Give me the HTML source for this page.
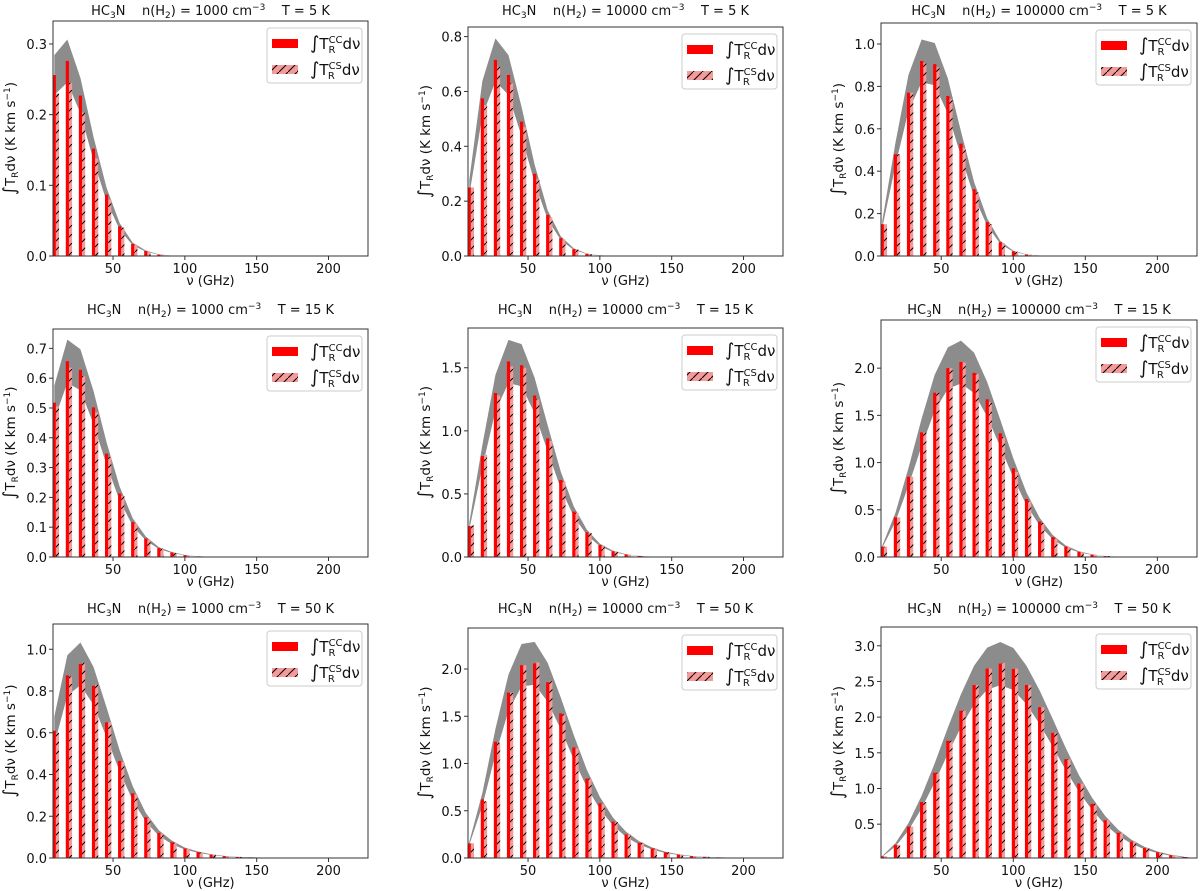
<!DOCTYPE html>
<html><head><meta charset="utf-8">
<style>
html,body{margin:0;padding:0;background:#fff;}
svg{display:block;font-family:"DejaVu Sans","Liberation Sans",sans-serif;}
.pre{white-space:pre;}
</style></head>
<body>
<svg id="fig" width="1200" height="891" viewBox="0 0 1200 891" xmlns="http://www.w3.org/2000/svg">
<defs>
<pattern id="hatch" patternUnits="userSpaceOnUse" width="9" height="9">
<line x1="0" y1="9" x2="9" y2="0" stroke="#000" stroke-width="1"/>
</pattern>
</defs>
</svg>
<script>
// ---- data ----
const nuStep = 9.0982;
const jLevels = [1,2,3,4,5,6,7,8,9,10,11,12,13,14,15,16,17,18,19,20,21,22,23,24];
const xTicks = [50,100,150,200];
const densities = ["1000","10000","100000"];
const temps = ["5","15","50"];
const ccP1 = [.256,.276,.227,.152,.087,.042,.017,.007,.002,.0005];
const csP1 = [.230,.245,.203,.138,.080,.040,.016,.006,.002,.0005];
const ccP2 = [.25,.575,.715,.66,.49,.30,.15,.065,.025,.008,.002,.0005];
const csP2 = [.25,.55,.69,.63,.47,.28,.14,.06,.023,.007,.002,.0005];
const ccP3 = [.15,.48,.77,.92,.905,.755,.53,.315,.16,.065,.022,.007,.002,.0005];
const csP3 = [.15,.48,.77,.91,.89,.74,.51,.30,.15,.06,.02,.006,.002,.0005];
const ccP4 = [.518,.657,.628,.502,.347,.213,.117,.062,.03,.015,.006,.002,.001,.0003];
const csP4 = [.505,.635,.607,.485,.335,.205,.112,.058,.028,.013,.005,.002,.001,.0003];
const ccP5 = [.245,.80,1.30,1.55,1.52,1.28,.94,.61,.36,.195,.095,.045,.02,.008,.003,.001];
const csP5 = [.25,.81,1.28,1.51,1.50,1.25,.92,.60,.35,.19,.09,.043,.019,.008,.003,.001];
const ccP6 = [.11,.42,.85,1.32,1.74,2.0,2.065,1.95,1.67,1.31,.94,.615,.375,.21,.11,.055,.025,.01,.004,.0015];
const csP6 = [.11,.42,.85,1.32,1.74,2.0,2.06,1.94,1.64,1.27,.90,.59,.36,.20,.105,.052,.024,.01,.004,.0015];
const ccP7 = [.61,.875,.93,.825,.65,.465,.31,.195,.12,.075,.045,.028,.016,.009,.005,.003,.0015,.001];
const csP7 = [.60,.87,.935,.83,.65,.46,.305,.19,.118,.073,.044,.027,.016,.009,.005,.003,.0015,.001];
const ccP8 = [.155,.62,1.23,1.75,2.04,2.06,1.86,1.53,1.17,.84,.58,.385,.25,.16,.10,.06,.036,.02,.012,.007,.004,.002,.001];
const csP8 = [.155,.60,1.22,1.75,2.04,2.07,1.87,1.52,1.16,.84,.57,.38,.25,.16,.10,.06,.035,.02,.012,.007,.004,.002,.001];
const ccP9 = [.05,.21,.465,.81,1.22,1.67,2.09,2.45,2.68,2.75,2.675,2.45,2.14,1.78,1.41,1.07,.785,.555,.38,.255,.165,.105,.065,.04];
const csP9 = [.05,.21,.465,.81,1.22,1.67,2.09,2.45,2.68,2.76,2.68,2.45,2.14,1.78,1.41,1.07,.785,.555,.38,.255,.165,.105,.065,.04];
const yTicksP1 = [0,0.1,0.2,0.3];
const yTicksP2 = [0,0.2,0.4,0.6,0.8];
const yTicksP3 = [0,0.2,0.4,0.6,0.8,1.0];
const yTicksP4 = [0,0.1,0.2,0.3,0.4,0.5,0.6,0.7];
const yTicksP5 = [0,0.5,1.0,1.5];
const yTicksP6 = [0,0.5,1.0,1.5,2.0];
const yTicksP7 = [0,0.2,0.4,0.6,0.8,1.0];
const yTicksP8 = [0,0.5,1.0,1.5,2.0];
const yTicksP9 = [0.5,1.0,1.5,2.0,2.5,3.0];
const yLimP1=[0,0.3325], yLimP2=[0,0.835], yLimP3=[0,1.099];
const yLimP4=[0,0.765], yLimP5=[0,1.815], yLimP6=[0,2.51];
const yLimP7=[0,1.121], yLimP8=[0,2.434], yLimP9=[0.026,3.263];
const bandFrac = 0.11;
const barW = 2.2;
const xLim = [8.2, 227.5];

// ---- layout ----
const colL=[53,468,881], colR=[368,783,1197];
const rowTop=[[21,27,23],[329,328,320],[624,628,627]];
const rowBot=[256,557,858];
const titleY=[15,314,613];
const panels=[
 [ccP1,csP1,yTicksP1,yLimP1],[ccP2,csP2,yTicksP2,yLimP2],[ccP3,csP3,yTicksP3,yLimP3],
 [ccP4,csP4,yTicksP4,yLimP4],[ccP5,csP5,yTicksP5,yLimP5],[ccP6,csP6,yTicksP6,yLimP6],
 [ccP7,csP7,yTicksP7,yLimP7],[ccP8,csP8,yTicksP8,yLimP8],[ccP9,csP9,yTicksP9,yLimP9]];
const NS="http://www.w3.org/2000/svg";
const fig=document.getElementById('fig');
function mk(tag,attrs,parent){const e=document.createElementNS(NS,tag);for(const k in attrs)e.setAttribute(k,attrs[k]);(parent||fig).appendChild(e);return e;}

panels.forEach((p,i)=>{
 const r=Math.floor(i/3),c=i%3;
 const [cc,cs,yt,yl]=p;
 const L=colL[c],R=colR[c],T=rowTop[r][c],B=rowBot[r];
 const xs=v=>L+(v-xLim[0])/(xLim[1]-xLim[0])*(R-L);
 const ys=v=>B-(v-yl[0])/(yl[1]-yl[0])*(B-T);
 const g=mk('g',{});
 
 
 const cp=mk('clipPath',{id:'clip'+i},g);
 mk('rect',{x:L,y:T,width:R-L,height:B-T},cp);
 const plot=mk('g',{'clip-path':'url(#clip'+i+')'},g);
 let up=[],lo=[];
 jLevels.forEach((j,k)=>{const v=k<cc.length?cc[k]:0;const x=xs(j*nuStep);up.push(x+','+ys(v*(1+bandFrac)));lo.unshift(x+','+ys(v*(1-bandFrac)));});
 const band=mk('polygon',{points:up.concat(lo).join(' '),fill:'#8c8c8c'},plot);
 
 
 jLevels.forEach((j,k)=>{
  const nu=j*nuStep;
  const v1=k<cc.length?cc[k]:0, v2=k<cs.length?cs[k]:0;
  const x1=xs(nu-barW/2), x2=xs(nu+barW/2), x3=xs(nu+barW*1.5);
  const y0=ys(Math.max(yl[0],0));
  const b2=mk('rect',{x:x2,y:ys(v2),width:x3-x2,height:Math.max(0,y0-ys(v2)),fill:'#f39a9a'},plot);
  
  
  mk('rect',{x:x2,y:ys(v2),width:x3-x2,height:Math.max(0,y0-ys(v2)),fill:'url(#hatch)'},plot);
  const b1=mk('rect',{x:x1,y:ys(v1),width:x2-x1,height:Math.max(0,y0-ys(v1)),fill:'#ff0000'},plot);
  
  
 });
 const fr=mk('rect',{x:L,y:T,width:R-L,height:B-T,fill:'none',stroke:'#333','stroke-width':1},g);
 
 
 xTicks.forEach(t=>{const x=xs(t);mk('line',{x1:x,x2:x,y1:B,y2:B+4,stroke:'#333'},g);
  const tx=mk('text',{x:x,y:B+17,'font-size':13,'text-anchor':'middle',fill:'#111'},g);tx.textContent=t;
  });
 yt.forEach(t=>{const y=ys(t);mk('line',{x1:L-4,x2:L,y1:y,y2:y,stroke:'#333'},g);
  const tx=mk('text',{x:L-6,y:y+5,'font-size':13,'text-anchor':'end',fill:'#111'},g);tx.textContent=t.toFixed(1);
  });
 const xl=mk('text',{x:(L+R)/2,y:B+29,'font-size':13,'text-anchor':'middle',fill:'#111'},g);
 xl.textContent='ν (GHz)';
 
 const cy=(T+B)/2, lx=L-38;
 const yl2=mk('text',{x:lx,y:cy,'font-size':13.5,'text-anchor':'middle',fill:'#111',transform:`rotate(-90 ${lx} ${cy})`},g);
 yl2.innerHTML='<tspan font-size="17">∫</tspan>T<tspan font-size="9" dy="3">R</tspan><tspan dy="-3">dν (K km s</tspan><tspan font-size="9" dy="-5">−1</tspan><tspan dy="5">)</tspan>';
 
 const ti=mk('text',{x:(L+R)/2,y:titleY[r],'font-size':13,'text-anchor':'middle',fill:'#111','class':'pre'},g);
 ti.innerHTML='HC<tspan font-size="9" dy="3">3</tspan><tspan dy="-3">N    n(H</tspan><tspan font-size="9" dy="3">2</tspan><tspan dy="-3">) = '+densities[c]+' cm</tspan><tspan font-size="9" dy="-5">−3</tspan><tspan dy="5">    T = '+temps[r]+' K</tspan>';
 
 const lg=mk('g',{},g);
 
 const lw=95,lh=55,lxp=R-6-lw,lyp=T+7;
 mk('rect',{x:lxp,y:lyp,width:lw,height:lh,rx:3,fill:'#fff','fill-opacity':0.8,stroke:'#ccc'},lg);
 const e1=mk('rect',{x:lxp+5,y:lyp+11,width:26,height:9,fill:'#ff0000'},lg);
 
 const e2=mk('rect',{x:lxp+5,y:lyp+37,width:26,height:9,fill:'#f39a9a'},lg);
 
 mk('rect',{x:lxp+5,y:lyp+37,width:26,height:9,fill:'url(#hatch)'},lg);
 const t1=mk('text',{x:lxp+43,y:lyp+21,'font-size':15,fill:'#111'},lg);
 t1.innerHTML='<tspan font-size="18">∫</tspan>T<tspan font-size="10" dy="-6">CC</tspan><tspan font-size="10" dx="-14" dy="10">R</tspan><tspan dx="7" dy="-4">dν</tspan>';
 const t2=mk('text',{x:lxp+43,y:lyp+47,'font-size':15,fill:'#111'},lg);
 t2.innerHTML='<tspan font-size="18">∫</tspan>T<tspan font-size="10" dy="-6">CS</tspan><tspan font-size="10" dx="-14" dy="10">R</tspan><tspan dx="7" dy="-4">dν</tspan>';
});
</script>
</body></html>
